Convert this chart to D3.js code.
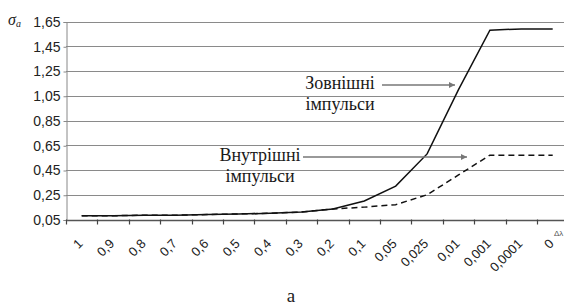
<!DOCTYPE html>
<html>
<head>
<meta charset="utf-8">
<script src="https://cdn.jsdelivr.net/npm/d3@7"></script>
<style>
	body { margin: 0; background: #fff; }
	svg { display: block; }
	.serif { font-family: "Liberation Serif", "Times New Roman", Times, serif; }
	.sans { font-family: "Liberation Sans", Arial, sans-serif; }
</style>
</head>
<body>
<div id="chartDiv"></div>
<script>

// categories along x (Δλ), as printed on the axis
var categories = ["1", "0,9", "0,8", "0,7", "0,6", "0,5", "0,4", "0,3", "0,2", "0,1", "0,05", "0,025", "0,01", "0,001", "0,0001", "0"];

// σa values
var externalPulses = [0.08, 0.08, 0.085, 0.085, 0.09, 0.095, 0.10, 0.11, 0.135, 0.20, 0.32, 0.58, 1.10, 1.58, 1.59, 1.59];
var internalPulses = [0.08, 0.08, 0.085, 0.085, 0.09, 0.095, 0.10, 0.11, 0.135, 0.15, 0.17, 0.25, 0.41, 0.57, 0.57, 0.57];

var yTicks = [0.05, 0.25, 0.45, 0.65, 0.85, 1.05, 1.25, 1.45, 1.65];

;(function() {

	var width = 564;
	var height = 307;
	var margin = { top: 21.5, left: 66 };
	var bandWidth = 31.4;
	var plotBottom = 219.5;

	var chart = d3.select("#chartDiv").append("svg")
		.attr("width", width)
		.attr("height", height);

	var xScale = d3.scaleBand()
		.domain(categories)
		.range([margin.left, margin.left + bandWidth * categories.length])
		.paddingInner(0).paddingOuter(0);

	var yScale = d3.scaleLinear()
		.domain([0.05, 1.65])
		.range([plotBottom, margin.top]);

	var fmt = function(v) { return d3.format(".2f")(v).replace(".", ","); };

	// gridlines
	chart.append("g")
		.selectAll("line")
		.data(yTicks)
		.enter().append("line")
		.attr("x1", margin.left)
		.attr("x2", width)
		.attr("y1", function(d) { return Math.round(yScale(d)) + 0.5; })
		.attr("y2", function(d) { return Math.round(yScale(d)) + 0.5; })
		.attr("stroke", function(d) { return d === 0.05 ? "#555" : "#8a8a8a"; })
		.attr("stroke-width", function(d) { return d === 0.05 ? 1.5 : 1.2; });

	// y axis
	var yAxis = d3.axisLeft(yScale).tickValues(yTicks).tickSize(3).tickPadding(3).tickFormat(fmt);
	var yg = chart.append("g")
		.attr("transform", "translate(" + (margin.left + 0.5) + ",0.5)")
		.call(yAxis);
	yg.attr("font-family", null).attr("font-size", null);
	yg.select(".domain").attr("stroke", "#888");
	yg.selectAll(".tick line").attr("stroke", "#888");
	yg.selectAll(".tick text")
		.attr("class", "sans")
		.attr("fill", "#222")
		.style("font-size", "14px");

	// x axis: ticks at category boundaries
	var boundaries = categories.map(function(c) { return xScale(c); });
	chart.append("g")
		.selectAll("line")
		.data(boundaries)
		.enter().append("line")
		.attr("x1", function(d) { return Math.round(d) + 0.5; })
		.attr("x2", function(d) { return Math.round(d) + 0.5; })
		.attr("y1", plotBottom)
		.attr("y2", plotBottom + 5)
		.attr("stroke", "#444")
		.attr("stroke-width", 1.2);

	chart.append("g")
		.selectAll("text")
		.data(categories)
		.enter().append("text")
		.attr("class", "sans")
		.attr("text-anchor", "end")
		.attr("transform", function(d) {
			return "translate(" + (xScale(d) + xScale.bandwidth() / 2 + 2) + "," + (plotBottom + 25) + ") rotate(-45)";
		})
		.attr("fill", "#222")
		.style("font-size", "13px")
		.text(function(d) { return d; });

	// axis titles
	var yTitle = chart.append("text")
		.attr("class", "serif")
		.attr("x", 8)
		.attr("y", 25)
		.attr("fill", "#222")
		.style("font-style", "italic")
		.style("font-size", "16px");
	yTitle.append("tspan").text("σ");
	yTitle.append("tspan").attr("dy", 2).style("font-size", "10px").text("a");

	chart.append("text")
		.attr("class", "sans")
		.attr("x", 554)
		.attr("y", 236)
		.attr("fill", "#555")
		.style("font-size", "8px")
		.text("Δλ");

	// series
	var line = d3.line()
		.x(function(d, i) { return xScale(categories[i]) + xScale.bandwidth() / 2; })
		.y(function(d) { return yScale(d); });

	chart.append("path")
		.datum(internalPulses)
		.attr("d", line)
		.attr("fill", "none")
		.attr("stroke", "#111")
		.attr("stroke-width", 1.5)
		.attr("stroke-dasharray", "6,4");

	chart.append("path")
		.datum(externalPulses)
		.attr("d", line)
		.attr("fill", "none")
		.attr("stroke", "#111")
		.attr("stroke-width", 1.5);

	// annotations
	var defs = chart.append("defs");
	defs.append("marker")
		.attr("id", "arrow")
		.attr("viewBox", "0 0 10 10")
		.attr("refX", 10).attr("refY", 5)
		.attr("markerWidth", 9).attr("markerHeight", 6)
		.attr("markerUnits", "userSpaceOnUse")
		.attr("orient", "auto")
		.append("path")
		.attr("d", "M0,0 L10,5 L0,10 z")
		.attr("fill", "#777");

	var notes = [
		{ lines: ["Зовнішні", "імпульси"], cx: 340, y: 89, arrow: [382, 85, 455, 85] },
		{ lines: ["Внутрішні", "імпульси"], cx: 260, y: 161, arrow: [303, 157, 467, 157] }
	];

	notes.forEach(function(n) {
		n.lines.forEach(function(t, i) {
			chart.append("text")
				.attr("class", "serif")
				.attr("x", n.cx)
				.attr("y", n.y + i * 21)
				.attr("text-anchor", "middle")
				.attr("fill", "#1a1a1a")
				.style("font-size", "18px")
				.text(t);
		});
		chart.append("line")
			.attr("x1", n.arrow[0]).attr("y1", n.arrow[1])
			.attr("x2", n.arrow[2]).attr("y2", n.arrow[3])
			.attr("stroke", "#777")
			.attr("stroke-width", 1.3)
			.attr("marker-end", "url(#arrow)");
	});

	chart.append("text")
		.attr("class", "serif")
		.attr("x", 291)
		.attr("y", 302)
		.attr("text-anchor", "middle")
		.attr("fill", "#222")
		.style("font-size", "19px")
		.text("а");

})();
</script>
</body>
</html>
